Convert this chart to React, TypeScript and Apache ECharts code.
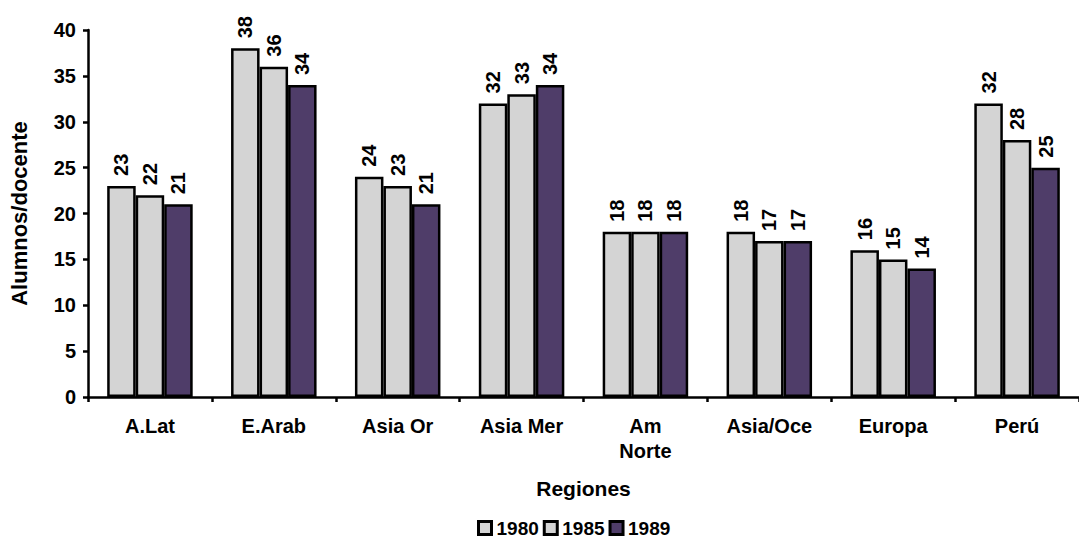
import React, { useEffect, useRef } from "react";
import * as echarts from "echarts";

const categories = ["A.Lat", "E.Arab", "Asia Or", "Asia Mer", "Am\nNorte", "Asia/Oce", "Europa", "Perú"];
const years = ["1980", "1985", "1989"];
const values1980 = [23, 38, 24, 32, 18, 18, 16, 32];
const values1985 = [22, 36, 23, 33, 18, 17, 15, 28];
const values1989 = [21, 34, 21, 34, 18, 17, 14, 25];
const yTicks = { min: 0, max: 40, interval: 5 };

const colors = ["#D4D4D4", "#D4D4D4", "#4F3D69"];
const FONT = "'Liberation Sans', Arial, sans-serif";

export default function App() {
  const ref = useRef<HTMLDivElement>(null);
  useEffect(() => {
    document.body.style.margin = "0";
    const chart = echarts.init(ref.current!, null, { renderer: "svg" });
    const seriesData = [values1980, values1985, values1989];
    chart.setOption({
      animation: false,
      textStyle: { fontFamily: FONT },
      grid: { left: 88, right: -11, top: 30, bottom: 147 },
      legend: {
        data: years,
        left: 477,
        top: 518,
        padding: 0,
        itemWidth: 13,
        itemHeight: 13,
        itemGap: 4,
        icon: "rect",
        itemStyle: { borderColor: "#000", borderWidth: 3 },
        textStyle: { fontFamily: FONT, fontWeight: "bold", fontSize: 19, lineHeight: 20, color: "#000" },
      },
      xAxis: {
        type: "category",
        data: categories,
        name: "Regiones",
        nameLocation: "middle",
        nameGap: 81,
        nameTextStyle: { fontFamily: FONT, fontWeight: "bold", fontSize: 21, color: "#000" },
        axisLine: { lineStyle: { color: "#000", width: 2.5 } },
        axisTick: { show: true, alignWithLabel: false, length: 5, lineStyle: { color: "#000", width: 2.5 } },
        axisLabel: { fontFamily: FONT, fontWeight: "bold", fontSize: 20, color: "#000", margin: 16, lineHeight: 25, interval: 0 },
      },
      yAxis: {
        type: "value",
        min: yTicks.min,
        max: yTicks.max,
        interval: yTicks.interval,
        name: "Alumnos/docente",
        nameLocation: "middle",
        nameGap: 58,
        nameTextStyle: { fontFamily: FONT, fontWeight: "bold", fontSize: 22, color: "#000" },
        axisLine: { show: true, lineStyle: { color: "#000", width: 2.5 } },
        axisTick: { show: true, length: 5, lineStyle: { color: "#000", width: 2.5 } },
        splitLine: { show: false },
        axisLabel: { fontFamily: FONT, fontWeight: "bold", fontSize: 20, color: "#000", margin: 12 },
      },
      series: years.map((y, i) => ({
        name: y,
        type: "bar",
        data: seriesData[i],
        barWidth: 28.5,
        barGap: "0%",
        itemStyle: { color: colors[i], borderColor: "#000", borderWidth: 2.5 },
        label: {
          show: true,
          position: "top",
          rotate: 90,
          align: "left",
          verticalAlign: "middle",
          distance: 10,
          fontFamily: FONT,
          fontWeight: "bold",
          fontSize: 20,
          color: "#000",
        },
      })),
    });
    return () => chart.dispose();
  }, []);
  return <div ref={ref} style={{ width: 1079, height: 544 }} />;
}
